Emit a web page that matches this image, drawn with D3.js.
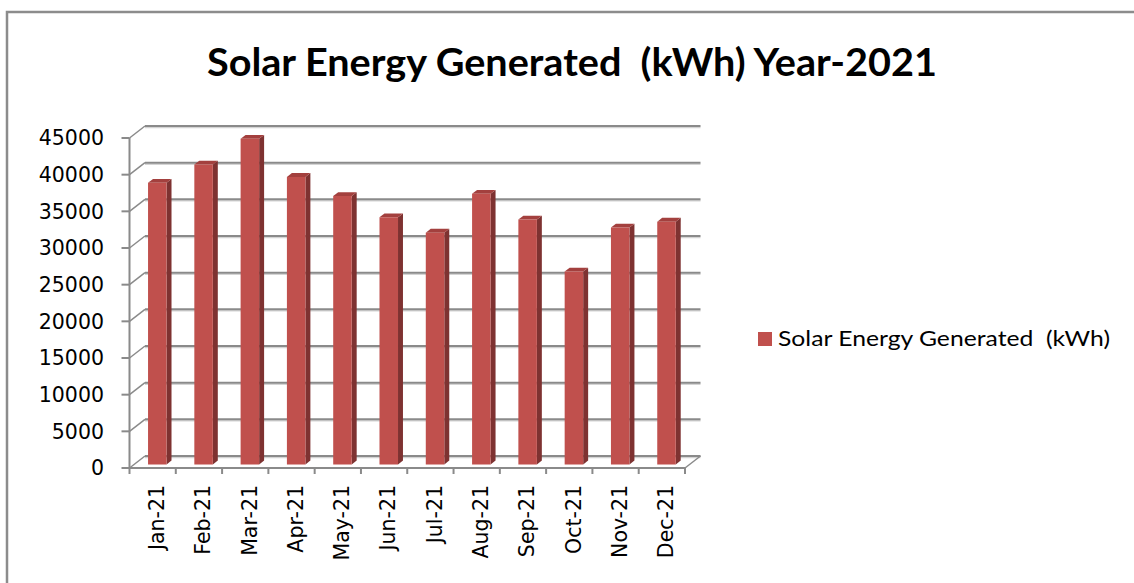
<!DOCTYPE html>
<html>
<head>
<meta charset="utf-8">
<script src="https://cdn.jsdelivr.net/npm/d3@7"></script>
<style>
  body { margin: 0; background: #fff; }
  text { white-space: pre; }
</style>
</head>
<body>
<div class="chart-wrapper"></div>
<script>

const months = ['Jan-21','Feb-21','Mar-21','Apr-21','May-21','Jun-21','Jul-21','Aug-21','Sep-21','Oct-21','Nov-21','Dec-21'];
const energy = [38400, 40900, 44400, 39200, 36600, 33700, 31600, 36900, 33400, 26300, 32300, 33100];
const yTicks = [0, 5000, 10000, 15000, 20000, 25000, 30000, 35000, 40000, 45000];
const seriesName = 'Solar Energy Generated  (kWh)';
const titleText = 'Solar Energy Generated  (kWh) Year-2021';

const width = 1134;
const height = 583;

// fake 3d: depth offset of the back wall
const depthX = 15.5, depthY = -12;
const barZ0 = 0.3, barZ1 = 0.62;

const svg = d3.select('.chart-wrapper')
  .append('svg')
  .attr('width', width)
  .attr('height', height)

const x = d3.scaleBand()
  .domain(months)
  .range([129.5, 685])
  .paddingInner(0.6)
  .paddingOuter(0.3)

const y = d3.scaleLinear()
  .domain([0, 45000])
  .range([468, 138])

const proj = (px, v, z) => [px + z * depthX, y(v) + z * depthY];

const gridColor = '#8a8a8a';

// outer frame
svg.append('path')
  .attr('d', `M7,${height} L7,12 L${width},12`)
  .attr('fill', 'none')
  .attr('stroke', '#8c8c8c')
  .attr('stroke-width', 2.5)

// title
svg.append('text')
  .attr('x', 572)
  .attr('y', 76)
  .attr('text-anchor', 'middle')
  .attr('font-family', 'Lato, "Open Sans", sans-serif')
  .attr('font-weight', 700)
  .attr('font-size', 39)
  .attr('textLength', 730)
  .attr('lengthAdjust', 'spacingAndGlyphs')
  .attr('fill', '#000')
  .text(titleText)

const grid = svg.append('g')

// back wall gridlines + left wall diagonals
yTicks.forEach(t => {
  const [bx0, by] = proj(x.range()[0], t, 1);
  const bx1 = proj(x.range()[1], t, 1)[0];
  grid.append('line')
    .attr('x1', bx0).attr('x2', bx1)
    .attr('y1', by + 1.5).attr('y2', by + 1.5)
    .attr('stroke', '#d4d4d4').attr('stroke-width', 1.5)
  grid.append('line')
    .attr('x1', bx0).attr('x2', bx1)
    .attr('y1', by).attr('y2', by)
    .attr('stroke', gridColor).attr('stroke-width', 2)
  grid.append('line')
    .attr('x1', x.range()[0]).attr('y1', y(t))
    .attr('x2', bx0).attr('y2', by)
    .attr('stroke', gridColor).attr('stroke-width', 1.5)
})

// floor right edge
const fr0 = proj(x.range()[1], 0, 0), fr1 = proj(x.range()[1], 0, 1);
grid.append('line')
  .attr('x1', fr0[0]).attr('y1', fr0[1])
  .attr('x2', fr1[0]).attr('y2', fr1[1])
  .attr('stroke', gridColor).attr('stroke-width', 1.5)

// bars
const bars = svg.append('g')
  .selectAll('g')
  .data(months.map((m, i) => ({month: m, value: energy[i]})))
  .join('g')

const face = (pts) => 'M' + pts.map(p => p.join(',')).join('L') + 'Z';

bars.append('path')
  .attr('fill', '#7e3231')
  .attr('d', d => {
    const xr = x(d.month) + x.bandwidth();
    return face([proj(xr, 0, barZ0), proj(xr, d.value, barZ0), proj(xr, d.value, barZ1), proj(xr, 0, barZ1)]);
  })

bars.append('path')
  .attr('fill', '#a3403e')
  .attr('d', d => {
    const xl = x(d.month), xr = xl + x.bandwidth();
    return face([proj(xl, d.value, barZ0), proj(xr, d.value, barZ0), proj(xr, d.value, barZ1), proj(xl, d.value, barZ1)]);
  })

bars.append('path')
  .attr('fill', '#c0504d')
  .attr('d', d => {
    const xl = x(d.month), xr = xl + x.bandwidth();
    return face([proj(xl, 0, barZ0), proj(xr, 0, barZ0), proj(xr, d.value, barZ0), proj(xl, d.value, barZ0)]);
  })

// front axes
const axes = svg.append('g')
  .attr('stroke', gridColor)
  .attr('stroke-width', 2)

axes.append('line')
  .attr('x1', x.range()[0]).attr('x2', x.range()[0])
  .attr('y1', y(45000)).attr('y2', y(0))

axes.append('line')
  .attr('x1', x.range()[0]).attr('x2', x.range()[1])
  .attr('y1', y(0)).attr('y2', y(0))

axes.selectAll('.ytick')
  .data(yTicks)
  .join('line')
  .attr('x1', x.range()[0] - 8).attr('x2', x.range()[0])
  .attr('y1', d => y(d)).attr('y2', d => y(d))

const xEdges = months.map(m => x(m) - x.step() * x.paddingOuter()).concat([x.range()[1]]);
axes.selectAll('.xtick')
  .data(xEdges)
  .join('line')
  .attr('x1', d => d).attr('x2', d => d)
  .attr('y1', y(0)).attr('y2', y(0) + 6)

// y tick labels
svg.append('g')
  .selectAll('text')
  .data(yTicks)
  .join('text')
  .attr('x', 104)
  .attr('y', d => y(d))
  .attr('dy', '0.36em')
  .attr('text-anchor', 'end')
  .attr('font-family', '"DejaVu Sans", sans-serif')
  .attr('font-size', 20.5)
  .attr('fill', '#000')
  .text(d => d)

// x tick labels
svg.append('g')
  .selectAll('text')
  .data(months)
  .join('text')
  .attr('transform', d => `translate(${x(d) + x.bandwidth() / 2 + 4},485) rotate(-90)`)
  .attr('dy', '0.36em')
  .attr('text-anchor', 'end')
  .attr('font-family', '"DejaVu Sans", sans-serif')
  .attr('font-size', 20.5)
  .attr('fill', '#000')
  .text(d => d)

// legend
const legend = svg.append('g')

legend.append('rect')
  .attr('x', 758).attr('y', 332)
  .attr('width', 14).attr('height', 14)
  .attr('fill', '#c0504d')

legend.append('text')
  .attr('x', 778)
  .attr('y', 346)
  .attr('font-family', 'Lato, "Open Sans", sans-serif')
  .attr('font-size', 21)
  .attr('textLength', 332)
  .attr('lengthAdjust', 'spacingAndGlyphs')
  .attr('fill', '#000')
  .text(seriesName)

</script>
</body>
</html>
